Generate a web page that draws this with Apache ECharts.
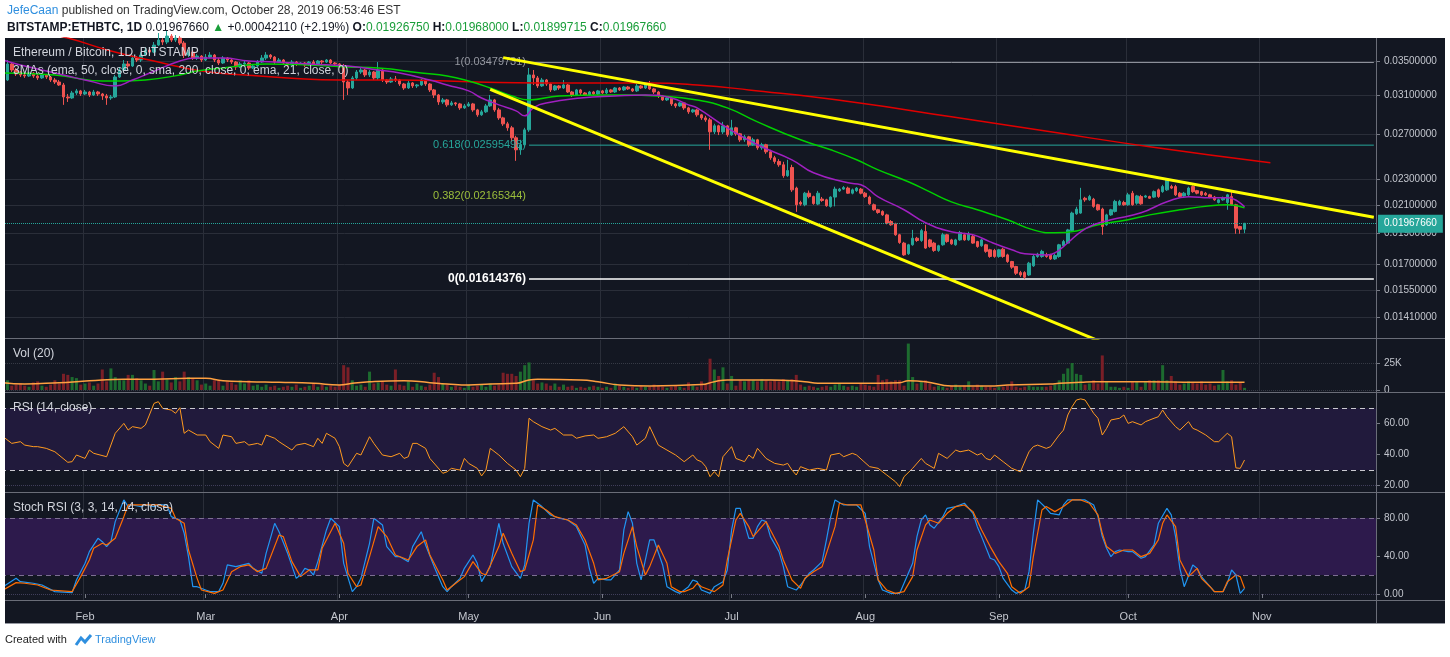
<!DOCTYPE html>
<html>
<head>
<meta charset="UTF-8">
<title>ETHBTC 1D</title>
<style>
html, body { margin: 0; padding: 0; background: #fff; }
#main { width: 1450px; height: 657px; }
</style>
</head>
<body>
<div id="main"></div>
<script src="https://cdn.jsdelivr.net/npm/echarts@6/dist/echarts.min.js"></script>
<script type="text/javascript">
// daily categories from 2019-01-13, the chart runs a month past the last bar
var firstDay = '2019-01-13';
var dayCount = 319;
var candleStart = '2019-01-14';

// daily bars, [open, close, low, high] in BTC
var candles = [
[.03270,.03461,.03259,.03510],[.03461,.03388,.03364,.03485],[.03388,.03341,.03317,.03412],[.03364,.03329,.03305,.03376],
[.03329,.03317,.03294,.03352],[.03317,.03352,.03305,.03364],[.03352,.03317,.03294,.03364],[.03317,.03294,.03270,.03341],
[.03294,.03329,.03282,.03352],[.03329,.03305,.03282,.03341],[.03305,.03270,.03247,.03317],[.03270,.03247,.03224,.03294],
[.03247,.03213,.03202,.03270],[.03213,.03079,.02994,.03236],[.03079,.03068,.03025,.03112],[.03068,.03123,.03058,.03146],
[.03123,.03146,.03101,.03168],[.03146,.03112,.03090,.03157],[.03112,.03134,.03101,.03157],[.03134,.03101,.03079,.03146],
[.03101,.03134,.03090,.03157],[.03134,.03112,.03090,.03146],[.03112,.03090,.03047,.03123],[.03090,.03068,.02994,.03112],
[.03068,.03079,.03047,.03101],[.03079,.03305,.03068,.03329],[.03305,.03388,.03294,.03424],[.03388,.03461,.03364,.03510],
[.03461,.03436,.03400,.03498],[.03436,.03535,.03424,.03572],[.03535,.03510,.03485,.03559],[.03510,.03572,.03485,.03610],
[.03572,.03636,.03559,.03675],[.03636,.03610,.03585,.03662],[.03610,.03701,.03597,.03741],[.03701,.03767,.03688,.03862],
[.03767,.03741,.03701,.03794],[.03741,.03821,.03714,.03903],[.03821,.03767,.03741,.03848],[.03767,.03794,.03741,.03835],
[.03794,.03727,.03701,.03821],[.03727,.03572,.03535,.03754],[.03572,.03610,.03547,.03636],[.03610,.03535,.03510,.03636],
[.03535,.03559,.03510,.03585],[.03559,.03510,.03485,.03572],[.03510,.03547,.03498,.03585],[.03547,.03572,.03535,.03610],
[.03572,.03510,.03485,.03585],[.03510,.03473,.03448,.03535],[.03473,.03535,.03461,.03559],[.03535,.03510,.03485,.03547],
[.03510,.03485,.03461,.03535],[.03485,.03424,.03388,.03498],[.03424,.03461,.03412,.03485],[.03461,.03473,.03436,.03498],
[.03473,.03412,.03388,.03485],[.03412,.03436,.03400,.03461],[.03436,.03485,.03424,.03510],[.03485,.03535,.03473,.03572],
[.03535,.03572,.03510,.03610],[.03572,.03547,.03522,.03585],[.03547,.03485,.03461,.03559],[.03485,.03510,.03473,.03535],
[.03510,.03473,.03448,.03522],[.03473,.03448,.03424,.03485],[.03448,.03485,.03436,.03510],[.03485,.03461,.03436,.03498],
[.03461,.03473,.03448,.03485],[.03473,.03448,.03424,.03485],[.03448,.03485,.03436,.03498],[.03485,.03461,.03448,.03510],
[.03461,.03498,.03448,.03510],[.03498,.03485,.03461,.03510],[.03485,.03510,.03473,.03522],[.03510,.03473,.03461,.03522],
[.03473,.03461,.03436,.03485],[.03461,.03436,.03412,.03473],[.03436,.03247,.03047,.03461],[.03247,.03179,.03101,.03270],
[.03179,.03294,.03168,.03317],[.03294,.03364,.03270,.03388],[.03364,.03388,.03341,.03412],[.03388,.03329,.03305,.03400],
[.03329,.03364,.03305,.03388],[.03364,.03294,.03270,.03376],[.03294,.03388,.03270,.03485],[.03388,.03270,.03247,.03400],
[.03270,.03247,.03224,.03282],[.03247,.03282,.03236,.03305],[.03282,.03270,.03247,.03317],[.03270,.03224,.03202,.03282],
[.03224,.03179,.03157,.03236],[.03179,.03236,.03168,.03259],[.03236,.03202,.03179,.03247],[.03202,.03213,.03179,.03224],
[.03213,.03270,.03202,.03282],[.03270,.03224,.03202,.03282],[.03224,.03157,.03134,.03236],[.03157,.03101,.03068,.03168],
[.03101,.03025,.02994,.03112],[.03025,.03047,.03004,.03068],[.03047,.02994,.02973,.03058],[.02994,.03015,.02983,.03036],
[.03015,.03004,.02983,.03025],[.03004,.02962,.02941,.03015],[.02962,.02983,.02952,.03004],[.02983,.03004,.02973,.03025],
[.03004,.02941,.02921,.03015],[.02941,.02890,.02870,.02952],[.02890,.02921,.02880,.02941],[.02921,.02983,.02910,.03004],
[.02983,.03047,.02973,.03101],[.03047,.02941,.02921,.03058],[.02941,.02859,.02839,.02962],[.02859,.02799,.02779,.02870],
[.02799,.02760,.02731,.02819],[.02760,.02664,.02626,.02779],[.02664,.02553,.02455,.02683],[.02553,.02599,.02508,.02645],
[.02599,.02740,.02580,.02760],[.02740,.03329,.02721,.03412],[.03329,.03294,.03213,.03388],[.03294,.03202,.03179,.03317],
[.03202,.03270,.03190,.03294],[.03270,.03224,.03202,.03282],[.03224,.03157,.03134,.03236],[.03157,.03202,.03146,.03213],
[.03202,.03179,.03157,.03213],[.03179,.03213,.03168,.03270],[.03213,.03134,.03123,.03224],[.03134,.03101,.03079,.03146],
[.03101,.03157,.03090,.03168],[.03157,.03123,.03101,.03168],[.03123,.03101,.03090,.03134],[.03101,.03134,.03090,.03146],
[.03134,.03112,.03101,.03146],[.03112,.03146,.03101,.03157],[.03146,.03123,.03112,.03157],[.03123,.03157,.03112,.03179],
[.03157,.03134,.03123,.03168],[.03134,.03179,.03123,.03190],[.03179,.03157,.03146,.03190],[.03157,.03190,.03146,.03202],
[.03190,.03168,.03157,.03202],[.03168,.03146,.03134,.03179],[.03146,.03202,.03134,.03224],[.03202,.03179,.03168,.03213],
[.03179,.03213,.03168,.03236],[.03213,.03168,.03157,.03259],[.03168,.03134,.03112,.03179],[.03134,.03090,.03068,.03146],
[.03090,.03047,.03036,.03101],[.03047,.03068,.03036,.03090],[.03068,.03004,.02983,.03079],[.03004,.02983,.02962,.03015],
[.02983,.03015,.02973,.03025],[.03015,.02962,.02941,.03025],[.02962,.02921,.02900,.02973],[.02921,.02941,.02910,.02952],
[.02941,.02890,.02870,.02952],[.02890,.02859,.02839,.02900],[.02859,.02839,.02819,.02880],[.02839,.02721,.02553,.02859],
[.02721,.02780,.02700,.02800],[.02780,.02720,.02690,.02790],[.02720,.02779,.02700,.02819],[.02779,.02692,.02673,.02789],
[.02692,.02760,.02683,.02839],[.02760,.02702,.02683,.02770],[.02702,.02645,.02626,.02711],[.02645,.02673,.02626,.02692],
[.02673,.02599,.02580,.02683],[.02599,.02645,.02589,.02664],[.02645,.02571,.02553,.02654],[.02571,.02599,.02553,.02617],
[.02599,.02535,.02517,.02608],[.02535,.02482,.02464,.02553],[.02482,.02450,.02430,.02499],[.02450,.02421,.02404,.02470],
[.02421,.02329,.02312,.02447],[.02329,.02372,.02320,.02464],[.02398,.02215,.02199,.02421],[.02229,.02101,.02049,.02240],
[.02118,.02106,.02094,.02131],[.02101,.02189,.02090,.02199],[.02189,.02163,.02150,.02210],[.02163,.02110,.02101,.02170],
[.02106,.02189,.02098,.02207],[.02144,.02133,.02123,.02160],[.02138,.02094,.02086,.02146],[.02089,.02159,.02080,.02165],
[.02159,.02221,.02089,.02240],[.02207,.02221,.02199,.02230],[.02221,.02233,.02215,.02245],[.02229,.02189,.02184,.02240],
[.02189,.02215,.02180,.02225],[.02209,.02229,.02199,.02237],[.02221,.02189,.02180,.02230],[.02189,.02163,.02153,.02199],
[.02159,.02108,.02101,.02170],[.02101,.02064,.02057,.02110],[.02064,.02044,.02035,.02071],[.02052,.02027,.02020,.02060],
[.02027,.01969,.01960,.02035],[.01980,.01957,.01950,.01990],[.01964,.01889,.01882,.01971],[.01889,.01838,.01829,.01895],
[.01834,.01759,.01753,.01842],[.01766,.01823,.01759,.01829],[.01823,.01866,.01817,.01922],[.01866,.01851,.01842,.01875],
[.01851,.01917,.01842,.01929],[.01911,.01802,.01797,.01957],[.01855,.01812,.01804,.01862],[.01834,.01787,.01778,.01842],
[.01787,.01817,.01778,.01823],[.01823,.01889,.01817,.01902],[.01889,.01844,.01836,.01895],[.01855,.01829,.01823,.01862],
[.01823,.01855,.01817,.01862],[.01855,.01904,.01849,.01915],[.01889,.01855,.01849,.01902],[.01855,.01895,.01849,.01909],
[.01877,.01834,.01829,.01889],[.01844,.01812,.01804,.01849],[.01817,.01855,.01810,.01862],[.01823,.01781,.01772,.01829],
[.01791,.01749,.01741,.01797],[.01787,.01749,.01741,.01797],[.01749,.01791,.01741,.01797],[.01795,.01749,.01741,.01804],
[.01759,.01718,.01710,.01766],[.01718,.01684,.01674,.01722],[.01688,.01648,.01638,.01692],[.01652,.01638,.01627,.01662],
[.01652,.01625,.01614,.01660],[.01638,.01708,.01632,.01716],[.01692,.01749,.01686,.01759],[.01749,.01763,.01741,.01772],
[.01749,.01781,.01741,.01791],[.01759,.01749,.01741,.01772],[.01759,.01734,.01728,.01766],[.01734,.01755,.01728,.01766],
[.01749,.01823,.01741,.01829],[.01817,.01844,.01810,.01855],[.01834,.01922,.01829,.01929],[.01917,.02040,.01909,.02050],
[.02035,.02069,.02027,.02086],[.02040,.02138,.02035,.02231],[.02150,.02138,.02123,.02161],[.02138,.02163,.02131,.02176],
[.02143,.02089,.02079,.02153],[.02101,.02064,.02057,.02108],[.02069,.01945,.01889,.02079],[.01957,.02027,.01950,.02035],
[.02027,.02064,.02020,.02071],[.02052,.02126,.02044,.02138],[.02101,.02126,.02094,.02138],[.02118,.02101,.02094,.02131],
[.02101,.02176,.02094,.02192],[.02189,.02101,.02094,.02207],[.02113,.02168,.02101,.02176],[.02163,.02108,.02101,.02176],
[.02159,.02168,.02153,.02176],[.02163,.02150,.02146,.02170],[.02159,.02201,.02153,.02210],[.02215,.02163,.02153,.02225],
[.02201,.02241,.02192,.02255],[.02215,.02296,.02207,.02304],[.02241,.02229,.02221,.02255],[.02241,.02176,.02168,.02255],
[.02189,.02163,.02153,.02199],[.02168,.02189,.02161,.02199],[.02176,.02229,.02168,.02240],[.02241,.02201,.02192,.02250],
[.02209,.02189,.02180,.02215],[.02201,.02176,.02168,.02207],[.02189,.02176,.02168,.02199],[.02176,.02159,.02150,.02184],
[.02159,.02138,.02131,.02168],[.02118,.02138,.02111,.02146],[.02138,.02156,.02131,.02163],[.02118,.02176,.02064,.02184],
[.02163,.02101,.02094,.02201],[.02101,.01934,.01896,.02108],[.01945,.01926,.01896,.01950],[.0192675,.0196766,.01899715,.01968]
];

// daily volume, thousands, same days as candles
var volumes = [
9,4,5,6,4,3,7,8,4,
3,5,9,6,15,14,12,11,5,6,
7,4,6,19,8,20,12,9,9,14,
14,11,9,6,4,18.5,8,17,10,7,
12,8,17,12,11,9,5,6,4,9,
9,4,8,7,5,9,6,9,4,5,
3,5,3,4,2,3,4,3,5,2,
3,4,6,3,5,3,4,3,5,23,
21,9,4,5,3,17,6,7,8,5,
4,19,5,4,8,3,6,4,3,5,
16,12,6,5,3,4,3,2,5,3,
4,5,3,6,4,5,16,15,15,13,
17,23,25.5,9,6,7,6,4,6,3,
5,3,4,2,3,2,3,4,3,2,
3,2,6,4,3,2,3,2,4,3,
3,5,4,3,2,3,4,3,2,7,
4,3,8,5,29,19,13,21,6,13,
4,9,8,9,9,8,10,9,8,9,
8,10,9,10,14,5,3,4,3,2,
3,4,3,5,6,4,3,4,3,6,
5,4,3,14,9,10,8,9,9,4,
43,12,6,8,9,6,3,4,3,2,
4,5,3,4,8,3,5,4,3,3,
2,3,3,4,8,3,2,3,4,3,
3,3,3,4,5,9,15,20,25,15,
14,5,6,9,6,32,8,3,3,2,
3,2,8,8,3,8,9,9,9,23,
9,13,8,5,6,8,7,6,8,5,
6,4,5,18.5,8,9,5,7,2
];

// indicator readings: [day index from firstDay, value]
var volumeMa = [[0,6.8],[5,5.6],[13,6.8],[17,7.7],[20,8.6],[28,9.9],[35,9.9],[43,10.8],[47,10.8],[51,8.6],[57,7.7],[64,7.1],[72,6.2],[78,4.6],[81,6.2],[85,7.7],[93,8.6],[99,6.8],[103,5.6],[108,4.6],[113,5.6],[119,6.2],[122,9.3],[124,9.9],[134,9.3],[138,7.7],[143,4.6],[150,3.7],[162,5.0],[165,7.7],[168,9.3],[178,9.3],[186,7.7],[189,6.2],[199,6.2],[208,6.8],[210,8.6],[214,7.7],[220,3.7],[230,3.7],[233,4.6],[243,5.6],[245,6.2],[250,7.1],[253,7.7],[265,7.7],[277,7.1],[288,7.1]];

var ema21 = [[0,.03510],[4,.03448],[9,.03388],[14,.03329],[20,.03258],[26,.03202],[30,.03270],[34,.03352],[41,.03498],[45,.03535],[51,.03535],[57,.03498],[63,.03486],[71,.03461],[80,.03436],[87,.03388],[92,.03352],[99,.03270],[103,.03213],[108,.03146],[111,.03068],[115,.02994],[119,.02931],[121,.02880],[123,.02962],[126,.03015],[134,.03068],[142,.03090],[149,.03101],[155,.03068],[159,.02994],[161,.02962],[168,.02759],[175,.02599],[183,.02464],[188,.02353],[196,.02271],[199,.02255],[203,.02161],[209,.02064],[214,.01971],[220,.01909],[225,.01889],[229,.01842],[234,.01791],[237,.01766],[242,.01759],[244,.01772],[247,.01836],[250,.01909],[253,.01957],[257,.01992],[264,.02042],[270,.02123],[275,.02161],[280,.02153],[284,.02153],[288,.02086]];
var ema50 = [[0,.03352],[12,.03329],[23,.03258],[27,.03258],[33,.03270],[41,.03329],[45,.03376],[51,.03412],[61,.03461],[71,.03448],[80,.03424],[87,.03412],[97,.03352],[103,.03317],[108,.03258],[113,.03179],[118,.03090],[122,.03047],[129,.03090],[139,.03101],[144,.03101],[152,.03090],[161,.03047],[168,.02962],[175,.02819],[185,.02645],[192,.02553],[198,.02464],[203,.02378],[210,.02280],[215,.02199],[220,.02123],[226,.02064],[233,.01992],[239,.01922],[244,.01902],[249,.01915],[254,.01957],[261,.01992],[266,.02027],[273,.02064],[280,.02094],[284,.02101],[288,.02079]];
var sma200 = [[6,.03903],[15,.03794],[25,.03623],[35,.03498],[46,.03376],[56,.03329],[66,.03294],[78,.03270],[92,.03270],[103,.03258],[110,.03247],[124,.03236],[150,.03236],[161,.03213],[173,.03157],[197,.03025],[220,.02870],[243,.02721],[266,.02581],[294,.02438]];

var rsi = [[0,51.6],[2,47.3],[4,48.4],[5,46.2],[7,45.2],[8,45.2],[10,44.1],[12,41.9],[15,35.1],[16,35.5],[17,39.8],[19,37.6],[20,43.0],[21,40.9],[24,38.7],[26,53.8],[28,60.2],[29,55.9],[30,58.1],[32,57.0],[33,59.2],[35,73.1],[36,74.2],[37,69.9],[39,68.8],[40,66.7],[41,70.3],[42,53.8],[43,55.9],[45,52.7],[47,52.7],[48,48.4],[50,44.1],[51,52.7],[53,51.6],[54,47.3],[56,48.4],[57,46.2],[59,47.3],[60,46.2],[61,52.7],[63,50.6],[64,48.4],[67,43.0],[68,46.2],[70,47.3],[72,45.2],[73,50.6],[74,47.3],[75,53.8],[77,50.6],[78,45.2],[79,34.4],[80,32.3],[82,40.9],[83,39.8],[85,51.6],[86,47.3],[88,39.8],[90,38.7],[92,40.9],[93,37.6],[94,38.7],[95,47.3],[96,47.3],[98,44.1],[99,37.6],[102,28.0],[103,29.0],[104,31.2],[105,30.6],[106,30.1],[107,37.6],[108,34.4],[110,31.2],[111,26.3],[112,30.1],[113,44.1],[115,39.8],[117,34.4],[119,30.1],[120,25.8],[121,31.2],[122,63.5],[123,61.3],[125,58.1],[127,55.9],[128,57.0],[130,52.7],[132,52.7],[133,50.6],[135,52.1],[137,52.7],[138,50.6],[140,51.6],[142,53.8],[144,58.1],[146,51.6],[147,46.2],[149,50.6],[150,58.1],[152,46.2],[154,43.0],[156,39.8],[158,35.5],[160,39.8],[161,36.6],[162,35.5],[163,32.3],[164,25.8],[165,29.1],[166,25.8],[167,38.7],[169,45.2],[170,37.6],[172,35.5],[173,39.8],[174,37.6],[175,44.1],[177,37.6],[179,34.4],[181,33.3],[182,34.4],[183,30.1],[184,26.9],[185,32.3],[187,30.1],[189,31.2],[191,30.1],[192,39.8],[194,40.9],[195,38.7],[197,40.9],[198,39.8],[201,32.3],[203,31.2],[205,26.9],[207,22.6],[208,19.4],[209,25.8],[211,31.2],[213,37.6],[214,34.4],[216,31.2],[217,40.9],[219,37.6],[221,43.0],[222,41.9],[224,43.0],[226,39.8],[227,40.9],[228,37.6],[229,36.6],[230,39.8],[232,35.5],[234,31.2],[236,29.0],[238,41.9],[239,45.2],[240,46.2],[242,44.1],[243,45.2],[245,52.7],[246,55.9],[247,65.6],[248,71.0],[249,75.3],[250,76.0],[251,75.3],[253,66.7],[254,63.5],[255,52.7],[256,57.0],[257,62.4],[259,63.5],[260,65.6],[261,60.2],[262,61.3],[264,59.2],[265,61.3],[267,63.5],[268,64.5],[269,68.8],[270,64.5],[272,58.1],[273,55.9],[275,61.3],[276,57.0],[277,55.9],[279,52.7],[281,48.4],[282,48.4],[284,53.8],[285,51.6],[286,31.5],[287,31.2],[288,36.6]];

var stochK = [[0,7.7],[3,16.5],[4,13.0],[7,11.3],[9,9.5],[12,2.5],[16,1.4],[17,14.8],[19,32.3],[20,44.6],[22,58.6],[23,55.1],[24,49.9],[25,55.1],[26,76.2],[28,99.0],[29,92.0],[30,93.7],[32,92.0],[33,93.7],[35,92.0],[36,93.7],[38,93.7],[39,81.4],[41,77.9],[42,63.9],[43,39.3],[44,7.7],[45,7.7],[47,4.2],[48,2.5],[50,2.5],[51,11.3],[52,30.6],[54,28.8],[57,32.3],[58,27.0],[60,21.8],[61,42.8],[63,74.4],[64,65.6],[66,42.8],[68,16.5],[69,20.0],[70,27.0],[71,25.3],[72,20.0],[73,34.1],[75,67.4],[76,79.7],[78,70.9],[79,32.3],[81,2.5],[82,7.7],[83,16.5],[85,53.4],[86,79.7],[88,72.7],[89,49.9],[91,39.3],[92,39.3],[94,34.1],[95,49.9],[97,65.6],[98,51.6],[100,28.8],[102,7.7],[103,2.5],[104,7.7],[106,16.5],[107,27.0],[109,41.1],[110,32.3],[111,13.0],[113,28.8],[115,74.4],[116,53.4],[118,28.8],[120,16.5],[121,30.6],[122,74.4],[123,99.0],[125,92.0],[127,83.2],[129,79.7],[131,77.9],[133,70.9],[135,51.6],[136,27.0],[137,11.3],[138,16.5],[140,14.8],[141,14.8],[143,25.3],[144,67.4],[145,86.7],[146,74.4],[147,32.3],[148,14.8],[150,56.9],[151,56.9],[153,30.6],[154,7.7],[156,2.5],[157,0.7],[159,7.7],[160,14.8],[161,13.0],[162,4.2],[164,0.7],[165,7.7],[167,13.0],[168,25.3],[169,67.4],[170,90.2],[171,90.2],[172,74.4],[173,58.6],[174,58.6],[175,70.9],[176,77.9],[177,76.2],[178,60.4],[180,44.6],[181,28.8],[182,7.7],[184,4.2],[185,9.5],[187,21.8],[188,25.3],[190,34.1],[191,56.9],[192,81.4],[193,99.0],[195,93.7],[196,93.7],[198,93.7],[200,84.9],[201,49.9],[203,14.8],[204,4.2],[206,0.7],[208,0.7],[209,11.3],[211,32.3],[212,60.4],[213,77.9],[214,83.2],[215,72.7],[216,69.2],[218,81.4],[219,90.2],[221,92.0],[223,95.5],[225,84.9],[226,70.9],[227,60.4],[229,37.6],[230,35.8],[231,28.8],[232,16.5],[234,4.2],[235,0.7],[237,4.2],[238,23.5],[239,63.9],[240,99.0],[242,90.2],[243,84.9],[245,83.2],[246,93.7],[247,99.0],[249,99.0],[251,99.0],[253,93.7],[254,81.4],[255,60.4],[256,48.1],[257,39.3],[258,44.6],[259,46.3],[261,44.6],[262,44.6],[264,37.6],[265,39.3],[267,51.6],[268,74.4],[270,90.2],[271,83.2],[272,60.4],[273,27.0],[274,7.7],[276,30.6],[277,27.0],[278,18.3],[280,7.7],[281,2.5],[283,2.5],[284,11.3],[285,25.3],[286,20.0],[287,0.7],[288,6.0]];

var stochD = [[0,4.2],[3,12.0],[5,11.3],[8,9.5],[11,4.2],[16,2.5],[18,18.3],[20,35.8],[21,48.1],[23,53.4],[24,51.6],[26,58.6],[28,81.4],[29,93.7],[31,93.7],[34,93.7],[36,93.7],[39,90.2],[40,79.7],[42,74.4],[43,46.3],[45,16.5],[46,4.2],[49,0.7],[51,4.2],[53,23.5],[55,28.8],[57,30.6],[59,23.5],[61,27.0],[64,62.1],[65,60.4],[67,34.1],[69,18.3],[71,25.3],[73,25.3],[74,48.1],[77,74.4],[79,53.4],[80,21.8],[82,7.7],[83,9.5],[85,39.3],[87,70.9],[89,60.4],[91,41.1],[93,37.6],[94,35.8],[96,49.9],[98,56.9],[99,41.1],[102,14.8],[103,4.2],[105,11.3],[107,18.3],[109,34.1],[111,21.8],[112,20.0],[115,49.9],[116,63.9],[118,42.8],[120,23.5],[121,25.3],[123,56.9],[124,93.7],[126,88.4],[128,81.4],[131,77.9],[133,72.7],[135,56.9],[137,32.3],[138,14.8],[140,16.5],[143,23.5],[144,42.8],[146,70.9],[147,49.9],[149,20.0],[150,28.8],[152,51.6],[154,32.3],[155,7.7],[157,2.5],[158,2.5],[160,6.0],[161,11.3],[162,7.7],[164,4.2],[165,2.5],[167,9.5],[168,35.8],[170,77.9],[171,84.9],[173,70.9],[174,60.4],[175,65.6],[177,76.2],[178,67.4],[180,49.9],[181,35.8],[183,14.8],[185,6.0],[186,16.5],[188,23.5],[190,28.8],[191,42.8],[193,70.9],[194,95.5],[196,93.7],[199,93.7],[200,77.9],[202,46.3],[203,14.8],[205,4.2],[207,0.7],[209,2.5],[211,18.3],[212,46.3],[214,72.7],[215,77.9],[217,74.4],[219,84.9],[221,92.0],[223,93.7],[225,86.7],[227,67.4],[229,49.9],[231,34.1],[233,21.8],[234,7.7],[236,0.7],[238,7.7],[239,39.3],[241,88.4],[242,92.0],[244,86.7],[246,92.0],[248,99.0],[250,99.0],[252,95.5],[254,83.2],[255,63.9],[256,49.9],[258,42.8],[260,46.3],[262,46.3],[264,39.3],[266,42.8],[268,56.9],[269,74.4],[270,83.2],[272,70.9],[273,35.8],[275,18.3],[277,27.0],[278,16.5],[280,7.7],[281,2.5],[283,2.5],[284,13.0],[286,20.0],[287,18.3],[288,6.0]];

// drawings on the price pane
var trendUpper = [[116, 0.0354], [318, 0.0201]];
var trendLower = [[113, 0.03164], [255, 0.0129]];
var fibRatios = ['1', '0.618', '0.382', '0'];
var fibPrices = [0.03479731, 0.02595498, 0.02165344, 0.01614376];
var fibStartDay = 122;

// axes
var priceTicks = [0.035, 0.031, 0.027, 0.023, 0.021, 0.019, 0.017, 0.0155, 0.0141];
var priceRange = [0.0131, 0.03795];
var volTicks = [0, 25];
var rsiTicks = [20, 40, 60];
var stochTicks = [0, 40, 80];
var lastPrice = 0.0196766;

var monthNames = ['Jan','Feb','Mar','Apr','May','Jun','Jul','Aug','Sep','Oct','Nov','Dec'];

var days = [];
var t0 = Date.parse(firstDay + 'T00:00:00Z');
for (var i = 0; i < dayCount; i++) {
    days.push(new Date(t0 + i * 86400000).toISOString().slice(0, 10));
}
var pad = days.indexOf(candleStart);

var UP = '#26a69a', DOWN = '#ef5350';
var candleData = [], volData = [];
for (var i = 0; i < pad; i++) {
    candleData.push(['-', '-', '-', '-']);
    volData.push('-');
}
for (var i = 0; i < candles.length; i++) {
    var c = candles[i];
    candleData.push(c.map(Math.log));
    volData.push({
        value: volumes[i],
        itemStyle: { color: c[1] >= c[0] ? '#1d6b2f' : '#7a1f27' }
    });
}

function logPts(arr) {
    return arr.map(function (p) { return [p[0], Math.log(p[1])]; });
}
function isMonthStart(idx, val) { return val.slice(8) === '01'; }

var gridLine = '#2a2e39';
var axisText = '#c3c6ce';
var font = 'Liberation Sans, Arial, sans-serif';

function xAxisFor(gi, showLabels) {
    return {
        type: 'category', gridIndex: gi, data: days, boundaryGap: true,
        axisLine: { show: false },
        axisTick: { show: showLabels, interval: isMonthStart, alignWithLabel: true, length: 4, lineStyle: { color: '#787b86' } },
        axisLabel: {
            show: showLabels, interval: isMonthStart, color: axisText, fontSize: 11, margin: 11,
            formatter: function (v) { return monthNames[parseInt(v.slice(5, 7), 10) - 1]; }
        },
        splitLine: { show: true, interval: isMonthStart, lineStyle: { color: gridLine, width: 1 } }
    };
}

function yAxisFor(gi, min, max, ticks, fmt, splitStyle) {
    return {
        type: 'value', gridIndex: gi, position: 'right', min: min, max: max, scale: true,
        axisLine: { show: false },
        axisTick: { show: true, length: 4, customValues: ticks, lineStyle: { color: '#787b86' } },
        axisLabel: { customValues: ticks, formatter: fmt, color: axisText, fontSize: 10, margin: 8 },
        splitLine: { show: true, lineStyle: splitStyle }
    };
}

// fibonacci levels drawn as separate line series so each keeps its own colour
var fibColors = ['#9598a1', '#26a69a', '#9cbf3b', '#ffffff'];
var fibSeries = fibPrices.map(function (p, k) {
    var lv = Math.log(p);
    return {
        type: 'line', name: 'Fib ' + fibRatios[k], xAxisIndex: 0, yAxisIndex: 0, z: 3,
        data: [[fibStartDay, lv], [dayCount - 1, lv]],
        showSymbol: false,
        lineStyle: { color: k === 2 ? 'rgba(0,0,0,0)' : fibColors[k], width: k === 3 ? 1.5 : 1 },
        endLabel: { show: false },
        markPoint: {
            silent: true, symbol: 'circle', symbolSize: 0,
            data: [{
                coord: [fibStartDay, lv],
                label: {
                    show: true, position: 'left', distance: 3,
                    formatter: fibRatios[k] + '(' + p.toFixed(8) + ')',
                    color: fibColors[k], fontSize: k === 3 ? 12 : 11, fontWeight: k === 3 ? 'bold' : 'normal'
                }
            }]
        }
    };
});

var option = {
    animation: false,
    backgroundColor: '#ffffff',
    textStyle: { fontFamily: font },
    grid: [
        { left: 1, right: 74, top: 38, height: 300, outerBoundsMode: 'none', containLabel: false },
        { left: 1, right: 74, top: 340, height: 50, outerBoundsMode: 'none', containLabel: false },
        { left: 1, right: 74, top: 393, height: 100, outerBoundsMode: 'none', containLabel: false },
        { left: 1, right: 74, top: 493, height: 107, outerBoundsMode: 'none', containLabel: false }
    ],
    xAxis: [xAxisFor(0, false), xAxisFor(1, false), xAxisFor(2, false), xAxisFor(3, true)],
    yAxis: [
        yAxisFor(0, Math.log(priceRange[0]), Math.log(priceRange[1]), priceTicks.map(Math.log),
            function (v) { return Math.exp(v).toFixed(8); }, { color: gridLine }),
        yAxisFor(1, 0, 46.3, volTicks, function (v) { return v === 0 ? '0' : v + 'K'; },
            { color: '#363a45', type: 'dotted' }),
        yAxisFor(2, 15.3, 79.8, rsiTicks, function (v) { return v.toFixed(2); },
            { color: 'rgba(120,110,160,0.45)', type: 'dotted' }),
        yAxisFor(3, -6.3, 106.3, stochTicks, function (v) { return v.toFixed(2); },
            { color: 'rgba(120,110,160,0.45)', type: 'dotted' })
    ],
    series: [
        {
            type: 'candlestick', name: 'ETHBTC', xAxisIndex: 0, yAxisIndex: 0, data: candleData,
            barWidth: 3, z: 4,
            itemStyle: { color: UP, color0: DOWN, borderColor: UP, borderColor0: DOWN, borderWidth: 1 },
            markLine: {
                silent: true, symbol: 'none', animation: false,
                data: [{
                    yAxis: Math.log(lastPrice),
                    lineStyle: { color: UP, type: 'dotted', width: 1 },
                    label: {
                        show: true, position: 'end', distance: 2, formatter: lastPrice.toFixed(8),
                        color: '#ffffff', fontSize: 10, backgroundColor: UP, padding: [4, 6, 4, 6]
                    }
                }]
            }
        },
        {
            type: 'line', name: 'SMA 200', xAxisIndex: 0, yAxisIndex: 0, data: logPts(sma200),
            smooth: true, showSymbol: false, z: 5, lineStyle: { color: '#e00000', width: 1.5 }
        },
        {
            type: 'line', name: 'EMA 50', xAxisIndex: 0, yAxisIndex: 0, data: logPts(ema50),
            smooth: true, showSymbol: false, z: 5, lineStyle: { color: '#00d000', width: 1.5 }
        },
        {
            type: 'line', name: 'EMA 21', xAxisIndex: 0, yAxisIndex: 0, data: logPts(ema21),
            smooth: true, showSymbol: false, z: 5, lineStyle: { color: '#a020c0', width: 1.5 }
        },
        {
            type: 'line', name: 'Upper trend', xAxisIndex: 0, yAxisIndex: 0, data: logPts(trendUpper),
            showSymbol: false, z: 6, lineStyle: { color: '#ffff00', width: 3 }
        },
        {
            type: 'line', name: 'Lower trend', xAxisIndex: 0, yAxisIndex: 0, data: logPts(trendLower),
            showSymbol: false, z: 6, lineStyle: { color: '#ffff00', width: 3 }
        },
        {
            type: 'bar', name: 'Volume', xAxisIndex: 1, yAxisIndex: 1, data: volData, barWidth: 3
        },
        {
            type: 'line', name: 'Volume MA', xAxisIndex: 1, yAxisIndex: 1, data: volumeMa,
            smooth: true, showSymbol: false, z: 4, lineStyle: { color: '#ffa040', width: 1.5 }
        },
        {
            type: 'line', name: 'RSI', xAxisIndex: 2, yAxisIndex: 2, data: rsi,
            showSymbol: false, z: 4, lineStyle: { color: '#ff9a1f', width: 1 },
            markArea: { silent: true, itemStyle: { color: '#211a3c' }, data: [[{ yAxis: 30 }, { yAxis: 70 }]] },
            markLine: {
                silent: true, symbol: 'none', label: { show: false },
                lineStyle: { color: '#c9c9cf', type: [5, 4], width: 1 },
                data: [{ yAxis: 70 }, { yAxis: 30 }]
            }
        },
        {
            type: 'line', name: 'Stoch K', xAxisIndex: 3, yAxisIndex: 3, data: stochK,
            showSymbol: false, z: 4, lineStyle: { color: '#2196f3', width: 1.2 },
            markArea: { silent: true, itemStyle: { color: '#2d1a4c' }, data: [[{ yAxis: 20 }, { yAxis: 80 }]] },
            markLine: {
                silent: true, symbol: 'none', label: { show: false },
                lineStyle: { color: '#7d6f92', type: [5, 4], width: 1 },
                data: [{ yAxis: 80 }, { yAxis: 20 }]
            }
        },
        {
            type: 'line', name: 'Stoch D', xAxisIndex: 3, yAxisIndex: 3, data: stochD,
            showSymbol: false, z: 4, lineStyle: { color: '#ff6d00', width: 1.2 }
        }
    ].concat(fibSeries),
    graphic: [
        { type: 'rect', z: -10, silent: true, shape: { x: 5, y: 38, width: 1440, height: 586 }, style: { fill: '#131722' } },
        { type: 'rect', z: 60, silent: true, shape: { x: 0, y: 38, width: 5, height: 590 }, style: { fill: '#ffffff' } },
        { type: 'line', z: 50, silent: true, shape: { x1: 1376.5, y1: 38, x2: 1376.5, y2: 624 }, style: { stroke: '#6a6d78', lineWidth: 1 } },
        { type: 'line', z: 50, silent: true, shape: { x1: 5, y1: 338.5, x2: 1445, y2: 338.5 }, style: { stroke: '#6a6d78', lineWidth: 1 } },
        { type: 'line', z: 50, silent: true, shape: { x1: 5, y1: 392.5, x2: 1445, y2: 392.5 }, style: { stroke: '#6a6d78', lineWidth: 1 } },
        { type: 'line', z: 50, silent: true, shape: { x1: 5, y1: 492.5, x2: 1445, y2: 492.5 }, style: { stroke: '#6a6d78', lineWidth: 1 } },
        { type: 'line', z: 50, silent: true, shape: { x1: 5, y1: 600.5, x2: 1445, y2: 600.5 }, style: { stroke: '#6a6d78', lineWidth: 1 } },
        { type: 'line', z: 50, silent: true, shape: { x1: 5, y1: 623.5, x2: 1445, y2: 623.5 }, style: { stroke: '#9598a1', lineWidth: 1 } },
        {
            type: 'text', z: 50, left: 7, top: 5,
            style: {
                text: '{a|JefeCaan} {b|published on TradingView.com, October 28, 2019 06:53:46 EST}',
                rich: {
                    a: { fill: '#2f8fdf', font: '12px ' + font },
                    b: { fill: '#333333', font: '12px ' + font }
                }
            }
        },
        {
            type: 'text', z: 50, left: 7, top: 22,
            style: {
                text: '{k|BITSTAMP:ETHBTC, 1D} {n|0.01967660} {g|\u25B2} {n|+0.00042110 (+2.19%)} {k|O:}{g|0.01926750} {k|H:}{g|0.01968000} {k|L:}{g|0.01899715} {k|C:}{g|0.01967660}',
                rich: {
                    k: { fill: '#131722', font: 'bold 12px ' + font },
                    n: { fill: '#131722', font: '12px ' + font },
                    g: { fill: '#1a9e3a', font: '12px ' + font }
                }
            }
        },
        { type: 'text', z: 50, left: 13, top: 47, style: { text: 'Ethereum / Bitcoin, 1D, BITSTAMP', fill: '#d1d4dc', font: '12px ' + font } },
        { type: 'text', z: 50, left: 13, top: 65, style: { text: '3MAs (ema, 50, close, 0, sma, 200, close, 0, ema, 21, close, 0)', fill: '#d1d4dc', font: '12px ' + font } },
        { type: 'text', z: 50, left: 13, top: 348, style: { text: 'Vol (20)', fill: '#d1d4dc', font: '12px ' + font } },
        { type: 'text', z: 50, left: 13, top: 402, style: { text: 'RSI (14, close)', fill: '#d1d4dc', font: '12px ' + font } },
        { type: 'text', z: 50, left: 13, top: 502, style: { text: 'Stoch RSI (3, 3, 14, 14, close)', fill: '#d1d4dc', font: '12px ' + font } },
        { type: 'text', z: 50, left: 5, top: 634, style: { text: 'Created with', fill: '#222222', font: '11px ' + font } },
        {
            type: 'polyline', z: 50, silent: true,
            shape: { points: [[76, 645], [81, 638], [85, 642], [91, 635]] },
            style: { stroke: '#2f8fdf', lineWidth: 3, fill: null }
        },
        { type: 'text', z: 50, left: 95, top: 634, style: { text: 'TradingView', fill: '#2f8fdf', font: '11px ' + font } }
    ]
};

var myChart = echarts.init(document.getElementById('main'));
myChart.setOption(option);
</script>
</body>
</html>
